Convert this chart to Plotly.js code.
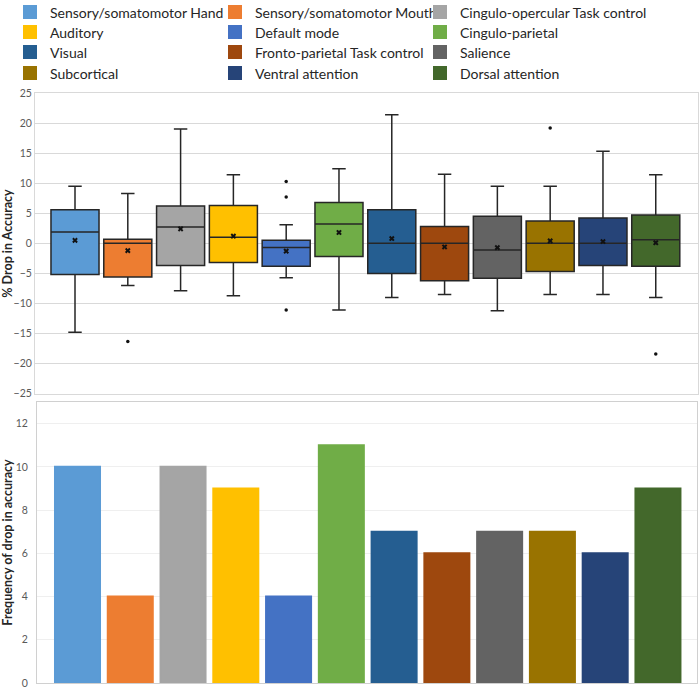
<!DOCTYPE html>
<html>
<head>
<meta charset="utf-8">
<script src="https://cdn.plot.ly/plotly-3.0.1.min.js"></script>
<style>html,body{margin:0;padding:0;background:#fff;}#chart{width:700px;height:689px;}</style>
</head>
<body>
<div id="chart"></div>
<script>
const categories = ['Sensory/somatomotor Hand', 'Sensory/somatomotor Mouth', 'Cingulo-opercular Task control',
  'Auditory', 'Default mode', 'Cingulo-parietal', 'Visual', 'Fronto-parietal Task control', 'Salience',
  'Subcortical', 'Ventral attention', 'Dorsal attention'];
const colors = ['#5B9BD5', '#ED7D31', '#A5A5A5', '#FFC000', '#4472C4', '#70AD47', '#255E91', '#9E480E',
  '#636363', '#997300', '#264478', '#43682B'];

// Box plot statistics (% drop in accuracy)
const lowerWhisker = [-14.8, -7.0, -7.9, -8.7, -5.7, -11.1, -9.0, -8.5, -11.2, -8.5, -8.5, -9.0];
const q1 = [-5.2, -5.6, -3.7, -3.2, -3.8, -2.2, -5.0, -6.2, -5.8, -4.7, -3.7, -3.8];
const median = [1.9, 0.0, 2.7, 1.0, -0.7, 3.2, 0.0, 0.0, -1.1, 0.0, 0.0, 0.6];
const q3 = [5.6, 0.7, 6.2, 6.3, 0.5, 6.8, 5.6, 2.8, 4.5, 3.7, 4.2, 4.7];
const upperWhisker = [9.5, 8.3, 19.0, 11.4, 3.1, 12.4, 21.4, 11.5, 9.5, 9.5, 15.3, 11.4];
const means = [0.5, -1.2, 2.4, 1.2, -1.3, 1.8, 0.8, -0.6, -0.7, 0.4, 0.3, 0.1];
const outlierCategories = ['Sensory/somatomotor Mouth', 'Default mode', 'Default mode', 'Default mode',
  'Subcortical', 'Dorsal attention'];
const outlierValues = [-16.3, 10.3, 7.7, -11.1, 19.2, -18.4];

// Frequency of drop in accuracy
const frequency = [10, 4, 10, 9, 4, 11, 7, 6, 7, 7, 6, 9];

const traces = [];

categories.forEach((c, i) => {
  traces.push({
    type: 'box', name: c, x: [c],
    q1: [q1[i]], median: [median[i]], q3: [q3[i]],
    lowerfence: [lowerWhisker[i]], upperfence: [upperWhisker[i]],
    boxpoints: false, width: 0.91, whiskerwidth: 0.28,
    fillcolor: colors[i], line: {color: '#262626', width: 1.5},
    xaxis: 'x', yaxis: 'y', showlegend: false, hoverinfo: 'skip'
  });
});

traces.push({
  type: 'scatter', mode: 'markers', x: categories, y: means,
  marker: {symbol: 'x', size: 5, color: '#111'},
  xaxis: 'x', yaxis: 'y', showlegend: false, hoverinfo: 'skip'
});
traces.push({
  type: 'scatter', mode: 'markers', x: outlierCategories, y: outlierValues,
  marker: {symbol: 'circle', size: 3.5, color: '#111'},
  xaxis: 'x', yaxis: 'y', showlegend: false, hoverinfo: 'skip'
});

const legendKey = i => (i === 0 ? 'legend' : 'legend' + (i + 1));

categories.forEach((c, i) => {
  traces.push({
    type: 'bar', name: c, x: [c], y: [frequency[i]], width: 0.853,
    marker: {color: colors[i], line: {color: colors[i], width: 2}},
    xaxis: 'x2', yaxis: 'y2', legend: legendKey(i), hoverinfo: 'skip'
  });
});

const L = 35, T = 93, B = 6, R = 2;
const W = 700 - L - R, H = 689 - T - B;
const px = v => (v - L) / W;
const py = v => (689 - B - v) / H;

const colX = [10, 215, 420];
const rowY = [12.5, 32.5, 52.5, 73.5];

const layout = {
  width: 700, height: 689,
  margin: {l: L, r: R, t: T, b: B, autoexpand: false},
  paper_bgcolor: '#fff', plot_bgcolor: '#fff',
  barmode: 'overlay',
  font: {family: 'Lato, sans-serif', color: '#262626'},
  xaxis: {
    domain: [0, 1], anchor: 'y', type: 'category', categoryorder: 'array', categoryarray: categories,
    range: [-0.7576, 11.8], showticklabels: false, ticks: '', showgrid: false, zeroline: false,
    showline: true, mirror: true, linecolor: '#d9d9d9', linewidth: 1
  },
  yaxis: {
    domain: [py(394), 1], anchor: 'x', range: [-25.05, 25], dtick: 5, tick0: 0,
    gridcolor: '#d9d9d9', zeroline: false, showline: true, mirror: true, linecolor: '#d9d9d9',
    ticks: '', ticklabeloverflow: 'allow', tickfont: {family: 'Lato, sans-serif', size: 10.5, color: '#595959'},
    title: {text: '<b>% Drop in Accuracy</b>', font: {family: 'Lato, sans-serif', size: 12.5, color: '#262626'}, standoff: 4}
  },
  xaxis2: {
    domain: [px(37), px(697)], anchor: 'y2', type: 'category', categoryorder: 'array', categoryarray: categories,
    range: [-0.7675, 11.74], showticklabels: false, ticks: '', showgrid: false, zeroline: false,
    showline: true, mirror: true, linecolor: '#d0d0d0', linewidth: 1
  },
  yaxis2: {
    domain: [0, py(402)], anchor: 'x2', range: [0, 13], tickvals: [0, 2, 4, 6, 8, 10, 12],
    gridcolor: '#efefef', zeroline: false, showline: true, mirror: true, linecolor: '#d0d0d0',
    ticks: '', ticklabelstandoff: 6, ticklabeloverflow: 'allow',
    tickfont: {family: 'Lato, sans-serif', size: 10.5, color: '#595959'},
    title: {text: '<b>Frequency of drop in accuracy</b>', font: {family: 'Lato, sans-serif', size: 12.5, color: '#262626'}, standoff: 4}
  }
};

categories.forEach((c, i) => {
  layout[legendKey(i)] = {
    orientation: 'h', yanchor: 'middle', xanchor: 'left',
    x: px(colX[i % 3]), y: py(rowY[Math.floor(i / 3)]),
    bgcolor: 'rgba(0,0,0,0)', borderwidth: 0,
    font: {family: 'Lato, sans-serif', size: 14, color: '#262626'}
  };
});

Plotly.newPlot('chart', traces, layout, {displayModeBar: false, staticPlot: true});
</script>
</body>
</html>
